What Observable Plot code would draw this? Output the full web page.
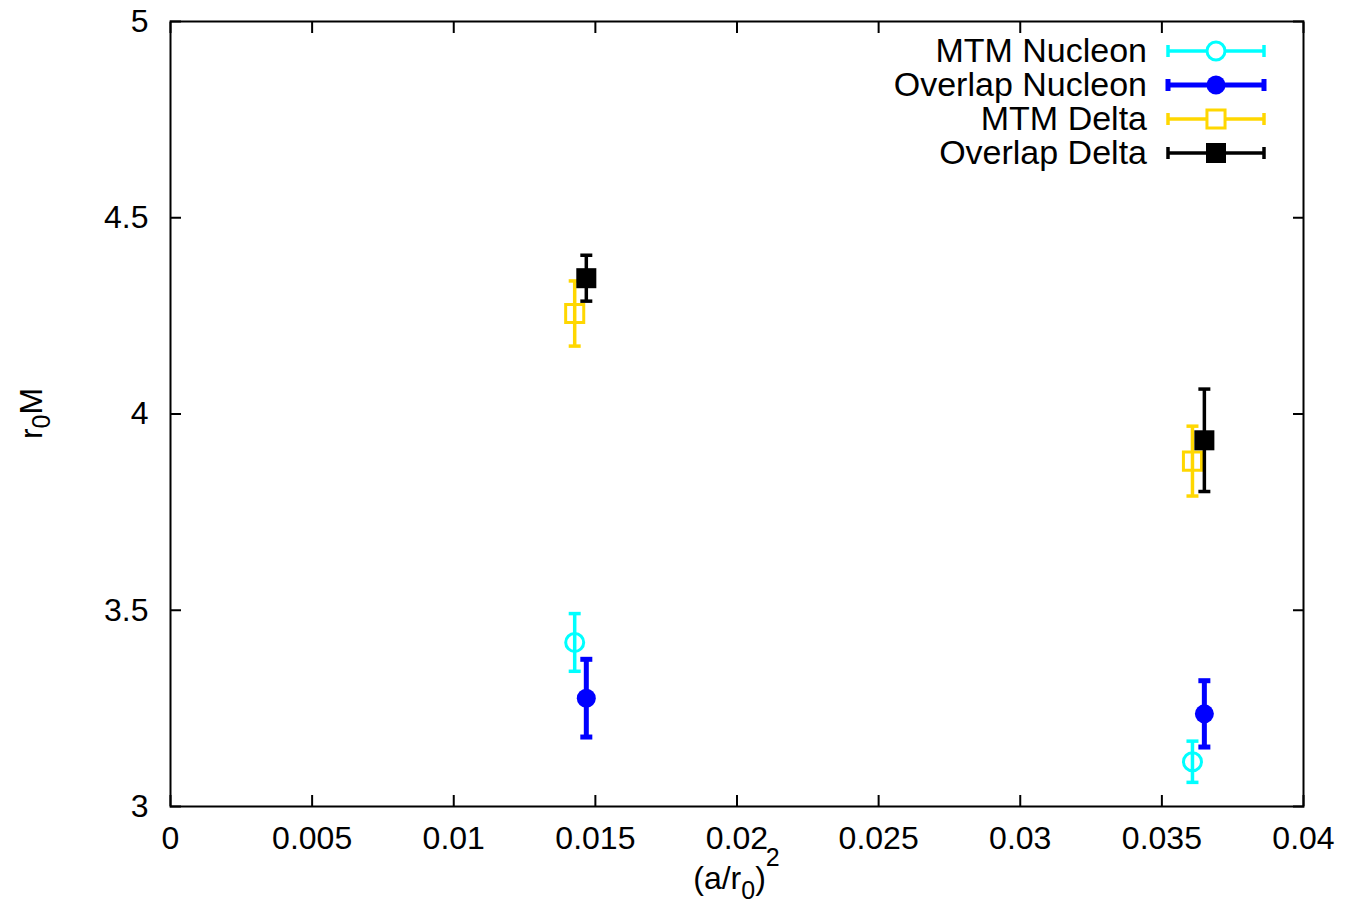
<!DOCTYPE html>
<html>
<head>
<meta charset="utf-8">
<script src="https://cdn.jsdelivr.net/npm/d3@7"></script>
<script src="https://cdn.jsdelivr.net/npm/@observablehq/plot@0.6"></script>
<style>
  body { margin: 0; background: #fff; }
  #chart svg { display: block; }
</style>
</head>
<body>
<div id="chart"></div>
<script>
// Hadron masses in units of r0 versus the squared lattice spacing (a/r0)^2
const seriesNames = ["MTM Nucleon", "Overlap Nucleon", "MTM Delta", "Overlap Delta"];
const seriesColors = ["#00ffff", "#0000ff", "#ffd700", "#000000"];

const xMTM = [0.01427, 0.03608];
const xOverlap = [0.01468, 0.0365];

const mtmNucleon = [3.418, 3.114];
const mtmNucleonErr = [0.0735, 0.0525];
const overlapNucleon = [3.276, 3.236];
const overlapNucleonErr = [0.099, 0.0845];
const mtmDelta = [4.256, 3.880];
const mtmDeltaErr = [0.083, 0.089];
const overlapDelta = [4.346, 3.933];
const overlapDeltaErr = [0.0585, 0.1305];

const xTicks = [0, 0.005, 0.01, 0.015, 0.02, 0.025, 0.03, 0.035, 0.04];
const xTickLabels = ["0", "0.005", "0.01", "0.015", "0.02", "0.025", "0.03", "0.035", "0.04"];
const yTicks = [3, 3.5, 4, 4.5, 5];
const yTickLabels = ["3", "3.5", "4", "4.5", "5"];

const FONT = "'Liberation Sans', Arial, Helvetica, sans-serif";
const FS = 32;
const KEY_FS = 34;

// gnuplot-like point styles, one per series
const pointStyles = [
  {symbol: "circle", filled: false, r: 9, strokeWidth: 3.5},
  {symbol: "circle", filled: true, r: 9.5, strokeWidth: 5},
  {symbol: "square", filled: false, r: 10.2, strokeWidth: 3.5},
  {symbol: "square", filled: true, r: 11.3, strokeWidth: 3.5}
];

// horizontal error-bar cap; half-width equals the dot radius
const capSymbol = {
  draw(context, size) {
    const w = Math.sqrt(size / Math.PI);
    context.moveTo(-w, 0);
    context.lineTo(w, 0);
  }
};

const series = [
  {x: xMTM, y: mtmNucleon, err: mtmNucleonErr},
  {x: xOverlap, y: overlapNucleon, err: overlapNucleonErr},
  {x: xMTM, y: mtmDelta, err: mtmDeltaErr},
  {x: xOverlap, y: overlapDelta, err: overlapDeltaErr}
].map((s, i) => ({
  name: seriesNames[i],
  color: seriesColors[i],
  style: pointStyles[i],
  rows: s.x.map((x, j) => ({x, y: s.y[j], lo: s.y[j] - s.err[j], hi: s.y[j] + s.err[j]}))
}));

const seriesMarks = series.flatMap(s => [
  Plot.ruleX(s.rows, {x: "x", y1: "lo", y2: "hi", stroke: s.color, strokeWidth: s.style.strokeWidth}),
  Plot.dot(s.rows, {x: "x", y: "lo", symbol: capSymbol, r: 6, stroke: s.color, strokeWidth: s.style.strokeWidth}),
  Plot.dot(s.rows, {x: "x", y: "hi", symbol: capSymbol, r: 6, stroke: s.color, strokeWidth: s.style.strokeWidth}),
  Plot.dot(s.rows, {
    x: "x", y: "y", symbol: s.style.symbol, r: s.style.r,
    fill: s.style.filled ? s.color : "none",
    stroke: s.color, strokeWidth: s.style.filled ? 0 : 3
  })
]);

const tickStyle = {tickSize: -11, fill: "none", label: null, strokeWidth: 2, stroke: "#000"};

const chart = Plot.plot({
  width: 1349,
  height: 906,
  marginLeft: 170,
  marginRight: 46,
  marginTop: 21,
  marginBottom: 100,
  style: {fontFamily: FONT, background: "#fff", color: "#000"},
  x: {domain: [0, 0.04], axis: null},
  y: {domain: [3, 5], axis: null},
  marks: [
    Plot.axisX(xTicks, {anchor: "bottom", ...tickStyle}),
    Plot.axisX(xTicks, {anchor: "top", ...tickStyle}),
    Plot.axisY(yTicks, {anchor: "left", ...tickStyle}),
    Plot.axisY(yTicks, {anchor: "right", ...tickStyle}),
    Plot.axisX(xTicks, {
      anchor: "bottom", tickSize: 0, tickPadding: 20, fontSize: FS, label: null,
      tickFormat: d => xTickLabels[xTicks.indexOf(d)]
    }),
    Plot.axisY(yTicks, {
      anchor: "left", tickSize: 0, tickPadding: 22, fontSize: FS, label: null,
      tickFormat: d => yTickLabels[yTicks.indexOf(d)]
    }),
    ...seriesMarks,
    Plot.frame({stroke: "#000", strokeWidth: 2})
  ]
});

document.getElementById("chart").appendChild(chart);

const svg = d3.select(chart);
const sx = chart.scale("x"), sy = chart.scale("y");
const [x0, x1] = sx.range;
const [y0, y1] = sy.range;

// x-axis title: (a/r0)^2
const xt = svg.append("text")
  .attr("x", (x0 + x1) / 2).attr("y", 889)
  .attr("text-anchor", "middle")
  .attr("font-family", FONT).attr("font-size", FS).attr("fill", "#000");
xt.append("tspan").text("(a/r");
xt.append("tspan").attr("font-size", 25).attr("dy", 10).text("0");
xt.append("tspan").attr("dy", -10).text(")");
xt.append("tspan").attr("font-size", 25).attr("dy", -23).text("2");

// y-axis title: r0M
const yt = svg.append("text")
  .attr("transform", `translate(42,${(y0 + y1) / 2}) rotate(-90)`)
  .attr("text-anchor", "middle")
  .attr("font-family", FONT).attr("font-size", FS).attr("fill", "#000");
yt.append("tspan").text("r");
yt.append("tspan").attr("font-size", 25).attr("dy", 8).text("0");
yt.append("tspan").attr("dy", -8).text("M");

// key, top right inside the frame
const legend = svg.append("g");
series.forEach((s, i) => {
  const cy = 51 + 34 * i;
  const g = legend.append("g");
  const sw = s.style.strokeWidth;
  g.append("text")
    .attr("x", 1147).attr("y", cy).attr("dy", "0.33em")
    .attr("text-anchor", "end")
    .attr("font-family", FONT).attr("font-size", KEY_FS).attr("fill", "#000")
    .text(s.name);
  g.append("line").attr("x1", 1168).attr("x2", 1264).attr("y1", cy).attr("y2", cy)
    .attr("stroke", s.color).attr("stroke-width", sw);
  [1168, 1264].forEach(cx => g.append("line")
    .attr("x1", cx).attr("x2", cx).attr("y1", cy - 6).attr("y2", cy + 6)
    .attr("stroke", s.color).attr("stroke-width", sw));
  const type = s.style.symbol === "circle" ? d3.symbolCircle : d3.symbolSquare;
  g.append("path")
    .attr("transform", `translate(1216,${cy})`)
    .attr("d", d3.symbol(type, Math.PI * s.style.r * s.style.r)())
    .attr("fill", s.style.filled ? s.color : "#fff")
    .attr("stroke", s.color).attr("stroke-width", s.style.filled ? 0 : 3);
});
</script>
</body>
</html>
